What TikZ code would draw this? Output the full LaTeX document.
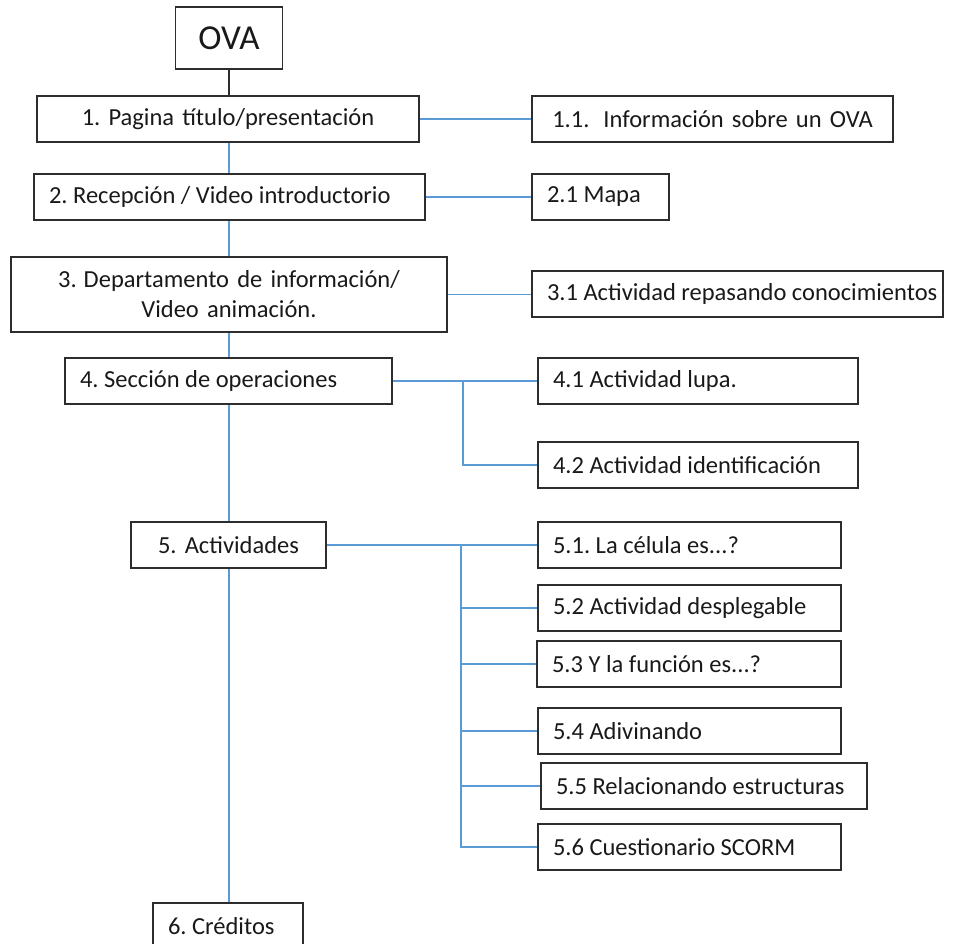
\documentclass[tikz,border=0pt]{standalone}
\usepackage{fontspec}
\setmainfont{Carlito}
\usepackage{tikz}
\usetikzlibrary{positioning}
\definecolor{linkblue}{RGB}{91,155,213}
\definecolor{boxgray}{RGB}{45,45,45}
\frenchspacing

\begin{document}
\begin{tikzpicture}[
    x=1pt, y=-1pt,
    box/.style={rectangle, draw=boxgray, line width=1.2pt, inner xsep=15pt, inner ysep=0pt,
        minimum height=46pt, align=flush left, text=black!90, font=\fontsize{24.5}{30}\selectfont},
    link/.style={linkblue, line width=1.4pt}
]
    \useasboundingbox (0,0) rectangle (972,944);

    % main column
    \node[box, minimum height=62pt, text width=77pt, align=center, font=\fontsize{35}{40}\selectfont] (ova) at (229,38) {OVA};
    \node[box, text width=352pt, align=center] (p1) at (228,119) {1. Pagina título/presentación};
    \node[box, text width=361pt] (p2) at (229.5,197) {2. Recepción / Video introductorio};
    \node[box, minimum height=75pt, text width=406pt, align=center] (p3) at (229,294.5) {3.\hspace{7pt}Departamento de información/\\Video animación.};
    \node[box, text width=297pt] (p4) at (228.5,381) {4. Sección de operaciones};
    \node[box, text width=165pt, align=center] (p5) at (228.5,545) {5. Actividades};
    \node[box, text width=120pt] (p6) at (228,926) {6. Créditos};

    % sub pages
    \node[box, text width=331pt, align=center] (p11) at (712.5,119) {1.1.\hspace{14pt}Información sobre un OVA};
    \node[box, text width=107pt] (p21) at (600.5,197) {2.1 Mapa};
    \node[box, text width=381pt] (p31) at (737.5,294) {\mbox{3.1 Actividad repasando conocimientos}};
    \node[box, text width=290pt] (p41) at (698,381) {4.1 Actividad lupa.};
    \node[box, text width=290pt] (p42) at (698,465) {4.2 Actividad identificación};
    \node[box, text width=273pt] (p51) at (689.5,545) {5.1. La célula es...?};
    \node[box, text width=273pt] (p52) at (689.5,608) {5.2 Actividad desplegable};
    \node[box, text width=274pt] (p53) at (689,664) {5.3 Y la función es...?};
    \node[box, text width=273pt] (p54) at (689.5,731) {5.4 Adivinando};
    \node[box, text width=296pt] (p55) at (704,786) {5.5 Relacionando estructuras};
    \node[box, text width=273pt] (p56) at (689.5,847) {5.6 Cuestionario SCORM};

    % connectors
    \draw[boxgray, line width=1.2pt] (ova.south) -- (ova.south |- p1.north);
    \foreach \a/\b in {p1/p2, p2/p3, p3/p4, p4/p5, p5/p6}
        \draw[link] (\a.south -| ova.south) -- (\b.north -| ova.south);

    \foreach \a/\b in {p1/p11, p2/p21, p3/p31, p4/p41, p5/p51}
        \draw[link] (\a.east) -- (\a.east -| \b.west);

    \coordinate (b4) at (463,381);
    \draw[link] (b4) |- (p42.west);

    \coordinate (b5) at (461,545);
    \draw[link] (b5) |- (p56.west);
    \foreach \c in {p52, p53, p54, p55}
        \draw[link] (b5 |- \c.west) -- (\c.west);
\end{tikzpicture}
\end{document}
